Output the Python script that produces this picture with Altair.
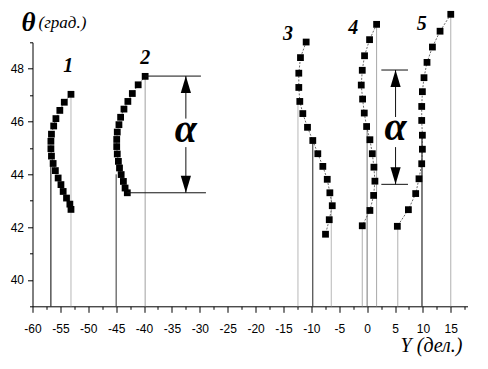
import altair as alt
import pandas as pd

# ---------------- data ----------------
# series: Y (divisions) and theta (degrees)
s1_y = [-53.1, -54.3, -55.1, -55.8, -56.2, -56.6, -56.7, -56.7, -56.6, -56.3, -55.9, -55.4, -54.9, -54.5, -53.9, -53.3, -53.1]
s1_t = [47.03, 46.73, 46.42, 46.11, 45.83, 45.52, 45.25, 44.97, 44.69, 44.41, 44.14, 43.86, 43.61, 43.35, 43.10, 42.87, 42.67]
s2_y = [-39.8, -41.05, -42.1, -42.9, -43.6, -44.2, -44.5, -44.8, -44.9, -44.9, -44.8, -44.6, -44.4, -44.1, -43.7, -43.4, -43.0]
s2_t = [47.71, 47.39, 47.06, 46.76, 46.47, 46.16, 45.88, 45.60, 45.32, 45.05, 44.77, 44.49, 44.24, 43.99, 43.73, 43.48, 43.30]
s3_y = [-10.93, -11.95, -12.25, -12.25, -12.07, -11.53, -10.69, -9.74, -8.84, -7.94, -7.15, -6.68, -6.25, -6.79, -7.46]
s3_t = [49.01, 48.42, 47.83, 47.29, 46.76, 46.30, 45.78, 45.28, 44.78, 44.30, 43.81, 43.30, 42.81, 42.28, 41.73]
s4_y = [1.70, 0.44, -0.46, -0.87, -1.05, -0.81, -0.51, -0.09, 0.50, 0.93, 1.22, 1.40, 1.17, 0.50, -0.87]
s4_t = [49.68, 49.10, 48.49, 47.94, 47.38, 46.85, 46.32, 45.81, 45.31, 44.78, 44.27, 43.74, 43.20, 42.63, 42.05]
s5_y = [15.0, 13.08, 11.71, 10.74, 10.20, 9.91, 9.79, 9.79, 9.91, 9.91, 9.79, 9.30, 8.71, 7.40, 5.42]
s5_t = [50.06, 49.42, 48.82, 48.24, 47.66, 47.13, 46.57, 46.04, 45.48, 44.95, 44.40, 43.83, 43.27, 42.66, 42.03]

# vertical drop lines from the axis
drop_y = [-56.7, -53.1, -45.0, -39.8, -12.4, -9.74, -6.43, -0.87, 0.0, 1.70, 5.5, 9.84, 15.0]
drop_top = [44.3, 47.03, 44.0, 47.71, 46.76, 45.28, 43.3, 42.05, 45.81, 49.68, 42.03, 45.48, 50.06]
drop_col = ["#000000", "#b8b8b8", "#333333", "#a0a0a0", "#b8b8b8", "#222222", "#b8b8b8",
            "#b0b0b0", "#777777", "#a8a8a8", "#b0b0b0", "#000000", "#b0b0b0"]

# series number labels
num_text = ["1", "2", "3", "4", "5"]
num_y = [-53.6, -39.8, -14.2, -2.5, 9.8]
num_t = [47.87, 48.19, 49.07, 49.33, 49.47]

# alpha annotations: horizontal marker lines
h_y1 = [-39.8, -43.0, 2.55, 2.55]
h_y2 = [-29.8, -28.9, 7.33, 7.33]
h_t = [47.72, 43.30, 47.95, 43.62]
# arrows: x, top, bottom, gap top, gap bottom
arr_y = [-32.5, 5.1]
arr_top = [47.72, 47.95]
arr_bot = [43.30, 43.62]
arr_gap_hi = [46.11, 46.17]
arr_gap_lo = [45.03, 45.03]
alpha_t = [45.21, 45.31]

X_DOM = [-60, 18]
T_DOM = [39, 49]
x_ticks = [-60 + 2.5 * k for k in range(32)]
y_ticks = list(range(39, 50))

# ---------------- tables ----------------
rows = []
for sid, (ys, ts) in enumerate([(s1_y, s1_t), (s2_y, s2_t), (s3_y, s3_t), (s4_y, s4_t), (s5_y, s5_t)], start=1):
    for i, (a, b) in enumerate(zip(ys, ts)):
        rows.append({"s": sid, "i": i, "y": a, "t": b})
pts = pd.DataFrame(rows)

drops = pd.DataFrame({"y": drop_y, "top": drop_top, "c": drop_col})
drops["base"] = T_DOM[0]
nums = pd.DataFrame({"y": num_y, "t": num_t, "txt": num_text})
hl = pd.DataFrame({"y": h_y1, "y2": h_y2, "t": h_t})
segs = pd.DataFrame({
    "y": arr_y + arr_y,
    "t1": arr_top + arr_gap_lo,
    "t2": arr_gap_hi + arr_bot,
})
up = pd.DataFrame({"y": arr_y, "t": arr_top})
down = pd.DataFrame({"y": arr_y, "t": arr_bot})
alph = pd.DataFrame({"y": arr_y, "t": alpha_t, "txt": ["α", "α"]})

# ---------------- encodings ----------------
xscale = alt.Scale(domain=X_DOM, nice=False, zero=False)
yscale = alt.Scale(domain=T_DOM, nice=False, zero=False)
xaxis = alt.Axis(
    values=x_ticks, title=None, grid=False,
    labelExpr="datum.value % 5 === 0 ? '' + datum.value : ''",
    tickSize={"condition": {"test": "datum.value % 5 === 0", "value": 6}, "value": 3},
    labelPadding=11, labelFlush=False, labelOverlap=False, labelBound=False,
)
yaxis = alt.Axis(
    values=y_ticks, title=None, grid=False,
    labelExpr="datum.value % 2 === 0 ? '' + datum.value : ''",
    tickSize={"condition": {"test": "datum.value % 2 === 0", "value": 5}, "value": 3},
    labelPadding=4, labelFlush=False, labelOverlap=False, labelBound=False,
)

def X(f):
    return alt.X(f, type="quantitative", scale=xscale, axis=xaxis)

def Y(f):
    return alt.Y(f, type="quantitative", scale=yscale, axis=yaxis)

drop_layer = alt.Chart(drops).mark_rule(strokeWidth=1).encode(
    x=X("y"), y=Y("base"), y2="top", color=alt.Color("c:N", scale=None)
)
conn_layer = alt.Chart(pts).mark_line(strokeWidth=0.8, color="#444444", strokeDash=[2, 1.5]).encode(
    x=X("y"), y=Y("t"), detail="s:N", order="i:Q"
)
pt_layer = alt.Chart(pts).mark_point(shape="square", filled=True, size=46, color="black", opacity=1).encode(
    x=X("y"), y=Y("t")
)
num_layer = alt.Chart(nums).mark_text(
    font="Liberation Serif", fontStyle="italic", fontWeight="bold", fontSize=20,
    baseline="alphabetic", align="center", color="black"
).encode(x=X("y"), y=Y("t"), text="txt:N")
hl_layer = alt.Chart(hl).mark_rule(strokeWidth=1, color="#111111").encode(
    x=X("y"), x2="y2", y=Y("t")
)
seg_layer = alt.Chart(segs).mark_rule(strokeWidth=1, color="#111111").encode(
    x=X("y"), y=Y("t1"), y2="t2"
)
up_layer = alt.Chart(up).mark_point(shape="M0,0L-0.6,2L0.6,2Z", filled=True, size=289, color="black", opacity=1).encode(
    x=X("y"), y=Y("t")
)
down_layer = alt.Chart(down).mark_point(shape="M0,0L-0.6,-2L0.6,-2Z", filled=True, size=289, color="black", opacity=1).encode(
    x=X("y"), y=Y("t")
)
alpha_layer = alt.Chart(alph).mark_text(
    font="Liberation Serif", fontStyle="italic", fontWeight="bold", fontSize=40,
    baseline="alphabetic", align="center", color="black"
).encode(x=X("y"), y=Y("t"), text="txt:N")

one = pd.DataFrame({"a": ["θ"], "b": ["(град.)"], "c": ["Y (дел.)"]})
theta_title = alt.Chart(one).mark_text(
    font="Liberation Serif", fontStyle="italic", fontWeight="bold", fontSize=27,
    baseline="alphabetic", align="left", color="black"
).encode(text="a:N", x=alt.value(-11), y=alt.value(-11))
grad_title = alt.Chart(one).mark_text(
    font="Liberation Serif", fontStyle="italic", fontSize=17,
    baseline="alphabetic", align="left", color="black"
).encode(text="b:N", x=alt.value(6), y=alt.value(-14))
x_title = alt.Chart(one).mark_text(
    font="Liberation Serif", fontStyle="italic", fontSize=20,
    baseline="alphabetic", align="right", color="black"
).encode(text="c:N", x=alt.value(430), y=alt.value(310))

chart = alt.layer(
    drop_layer, conn_layer, pt_layer, hl_layer, seg_layer, up_layer, down_layer,
    alpha_layer, num_layer, theta_title, grad_title, x_title
).properties(
    width=435, height=264,
    padding={"left": 24.5, "top": 34.3, "right": 12.5, "bottom": 54.7},
    autosize=alt.AutoSizeParams(type="none"),
    background="white",
).configure_view(stroke=None).configure_axis(
    domainColor="black", domainWidth=1, tickColor="black", tickWidth=1,
    labelColor="black", labelFont="Liberation Sans", labelFontSize=12,
)

chart.save("out.html", embed_options={"renderer": "svg", "actions": False})
